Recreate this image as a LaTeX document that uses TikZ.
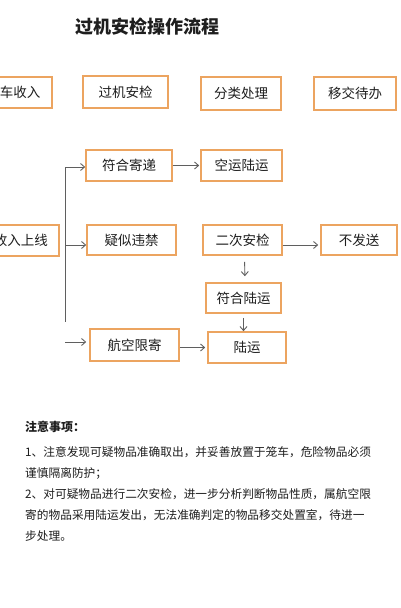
\documentclass[tikz,border=0pt]{standalone}
\usepackage{fontspec}
\setmainfont{Noto Sans CJK SC}
\usepackage{xcolor}
\usetikzlibrary{positioning,arrows.meta,calc}
\definecolor{boxline}{RGB}{236,164,96}
\definecolor{arrowgray}{RGB}{95,95,95}
\definecolor{inkdark}{RGB}{30,30,30}

\begin{document}
\begin{tikzpicture}[x=1pt, y=-1pt, >={Straight Barb[length=4pt,width=7pt]},
  every node/.style={text=inkdark},
  box/.style={draw=boxline, line width=1.6pt, align=center, inner sep=0pt, minimum height=31pt,
    font=\fontsize{13.5}{16}\selectfont},
  flow/.style={->, draw=arrowgray, line width=0.9pt}]
\useasboundingbox (0,0) rectangle (400,608);
\clip (0,0) rectangle (400,608);
\fill[white] (0,0) rectangle (400,608);
% title
\node[font=\fontsize{18}{20}\selectfont\bfseries] (title) at (147,27) {过机安检操作流程};
% top row
\node[box, minimum width=64pt] (carin) at (20,92.5) {车收入};
\node[box, minimum width=85pt, minimum height=32pt] (xray) at (125.5,92) {过机安检};
\node[box, minimum width=80pt, minimum height=33pt] (sort) at (241,93.5) {分类处理};
\node[box, minimum width=82pt, minimum height=33pt] (handover) at (355,93.5) {移交待办};
% flow
\node[box, minimum width=86pt] (okmail) at (129,165.5) {符合寄递};
\node[box, minimum width=81pt] (airland) at (241.5,165.5) {空运陆运};
\node[box, minimum width=76pt] (online) at (21,240.5) {收入上线};
\node[box, minimum width=89pt, minimum height=30pt] (suspect) at (131.5,240) {疑似违禁};
\node[box, minimum width=79pt, minimum height=30pt] (recheck) at (242.5,240) {二次安检};
\node[box, minimum width=76pt, minimum height=30pt] (nosend) at (359,240) {不发送};
\node[box, minimum width=75pt, minimum height=30pt] (landok) at (243.5,298) {符合陆运};
\node[box, minimum width=89pt, minimum height=32pt] (airlimit) at (134.5,345) {航空限寄};
\node[box, minimum width=78pt] (land) at (247,347.5) {陆运};
\coordinate (trunktop) at (65,167);
\coordinate (trunkmid) at (65,245);
\coordinate (trunkend) at (65,322);
\coordinate (branchlow) at (65,342);
\draw[draw=arrowgray, line width=0.9pt] (trunktop) -- (trunkend);
\draw[flow] (trunktop) -- (okmail.west |- trunktop);
\draw[flow] (trunkmid) -- (suspect.west |- trunkmid);
\draw[flow] (branchlow) -- ([xshift=-3pt]airlimit.west |- branchlow);
\draw[flow] (okmail.east) -- ([xshift=-1pt]airland.west);
\draw[flow] ([yshift=-5pt]recheck.east) -- ([xshift=-2pt,yshift=-5pt]nosend.west);
\draw[flow, shorten <=6pt, shorten >=6pt] ([xshift=2pt]recheck.south) -- ([xshift=1.5pt]landok.north);
\draw[flow, shorten <=4pt] (landok.south) -- (landok.south |- land.north);
\draw[flow] (airlimit.east |- land.west) -- ([xshift=-2pt]land.west);
% notes
\node[anchor=west, inner sep=0pt, font=\fontsize{12}{14}\selectfont\bfseries] (notehead) at (25,427) {注意事项：};
\node[anchor=north west, align=left, inner sep=0pt,
  font=\fontsize{11.7}{21.2}\selectfont] (notes) at (25,446)
  {1、注意发现可疑物品准确取出，并妥善放置于笼车，危险物品必须\\
   谨慎隔离防护；\\
   2、对可疑物品进行二次安检，进一步分析判断物品性质，属航空限\\
   寄的物品采用陆运发出，无法准确判定的物品移交处置室，待进一\\
   步处理。};
\end{tikzpicture}
\end{document}
